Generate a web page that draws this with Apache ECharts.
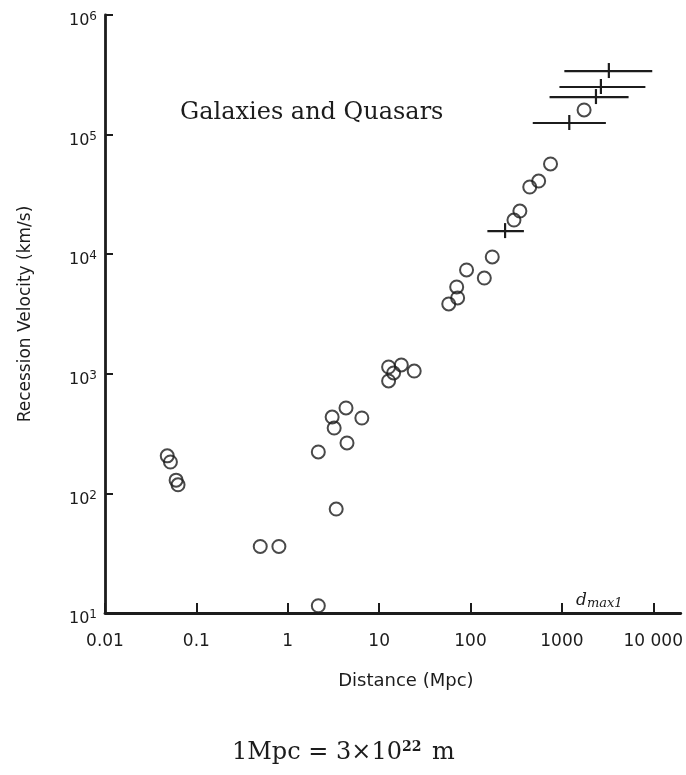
<!DOCTYPE html>
<html>
<head>
<meta charset="utf-8">
<title>Galaxies and Quasars</title>
<script src="https://cdn.jsdelivr.net/npm/echarts@6/dist/echarts.min.js"></script>
<style>
    html, body { margin: 0; padding: 0; background: #fff; }
    #hubble { width: 686px; height: 775px; }
</style>
</head>
<body>
<div id="hubble"></div>
<script>
// distances in Mpc, velocities in km/s
var galaxyDist = [0.048, 0.052, 0.060, 0.063, 0.50, 0.80, 2.16, 2.16, 3.06, 3.22, 4.34, 4.45, 3.39, 6.47,
    12.7, 12.7, 14.4, 17.5, 24.2, 57.8, 72.3, 70.6, 90.5, 141.6, 173, 299, 347, 445, 557, 751, 1750];
var galaxyVel = [206, 183, 129, 118, 36, 36, 11.5, 222, 435, 352, 518, 264, 74, 427,
    1140, 871, 1016, 1185, 1055, 3835, 4305, 5320, 7380, 6320, 9480, 19300, 22960, 36470, 40900, 56800, 160700];

// quasars with horizontal distance bars
var quasarDist = [3266, 2673, 2360, 1205, 239];
var quasarDistLow = [1064, 940, 733, 480, 153];
var quasarDistHigh = [9750, 8200, 5370, 3030, 384];
var quasarVel = [340000, 250000, 206000, 125000, 15600];

var xTickLabels = ['0.01', '0.1', '1', '10', '100', '1000', '10 000'];
var yExponents = ['1', '2', '3', '4', '5', '6'];

var ink = '#1c1c1c';

var myChart = echarts.init(document.getElementById('hubble'));

var galaxyData = galaxyDist.map(function (d, i) {
    return [d, galaxyVel[i]];
});
var quasarData = quasarDist.map(function (d, i) {
    return [d, quasarVel[i], quasarDistLow[i], quasarDistHigh[i]];
});

var option = {
    backgroundColor: '#fff',
    animation: false,
    title: {
        text: 'Galaxies and Quasars',
        left: 175,
        top: 96,
        textStyle: {
            fontFamily: 'DejaVu Serif',
            fontWeight: 'normal',
            fontSize: 24,
            color: ink
        }
    },
    grid: {
        left: 105,
        right: -2,
        top: 15,
        bottom: 162
    },
    xAxis: {
        type: 'log',
        logBase: 10,
        min: 0.01,
        max: 20000,
        name: 'Distance (Mpc)',
        nameLocation: 'middle',
        nameGap: 59,
        nameTextStyle: {
            fontFamily: 'DejaVu Sans',
            fontSize: 18,
            color: ink,
            padding: [0, 0, 0, 26]
        },
        axisLine: { lineStyle: { color: ink, width: 2.8 } },
        axisTick: { inside: true, length: 10, lineStyle: { color: ink, width: 2 } },
        minorTick: { show: false },
        splitLine: { show: false },
        axisLabel: {
            margin: 20,
            fontFamily: 'DejaVu Sans',
            fontSize: 17,
            color: ink,
            showMaxLabel: false,
            formatter: function (v) {
                var k = Math.round(Math.log10(v)) + 2;
                if (Math.abs(Math.log10(v) - (k - 2)) > 0.01) return '';
                return xTickLabels[k] || '';
            }
        }
    },
    yAxis: {
        type: 'log',
        logBase: 10,
        min: 10,
        max: 1000000,
        name: 'Recession Velocity (km/s)',
        nameLocation: 'middle',
        nameGap: 71,
        nameTextStyle: {
            fontFamily: 'DejaVu Sans',
            fontSize: 17,
            color: ink
        },
        axisLine: { lineStyle: { color: ink, width: 2.8 } },
        axisTick: { inside: true, length: 8, lineStyle: { color: ink, width: 2 } },
        splitLine: { show: false },
        axisLabel: {
            margin: 8,
            padding: [12, 0, 0, 0],
            fontFamily: 'DejaVu Sans',
            fontSize: 16,
            color: ink,
            formatter: function (v) {
                var k = Math.round(Math.log10(v)) - 1;
                return '10{s|' + yExponents[k] + '}';
            },
            rich: {
                s: {
                    fontFamily: 'DejaVu Sans',
                    fontSize: 12,
                    color: ink,
                    verticalAlign: 'top',
                    padding: [0, 0, 8, 0]
                }
            }
        }
    },
    graphic: [
        {
            type: 'text',
            left: 232,
            top: 740,
            style: {
                text: '1Mpc = 3×10{s|22} m',
                font: '24px "DejaVu Serif"',
                fill: ink,
                rich: {
                    s: {
                        fontFamily: 'DejaVu Serif',
                        fontSize: 14,
                        fontWeight: 'bold',
                        fill: ink,
                        padding: [0, 3, 12, 0]
                    }
                }
            }
        },
        {
            type: 'text',
            left: 576,
            top: 592,
            style: {
                text: 'd{s|max1}',
                font: 'italic 17px "DejaVu Serif"',
                fill: ink,
                rich: {
                    s: {
                        fontFamily: 'DejaVu Serif',
                        fontStyle: 'italic',
                        fontSize: 13,
                        fill: ink,
                        padding: [7, 0, 0, 0]
                    }
                }
            }
        }
    ],
    series: [
        {
            name: 'Galaxies',
            type: 'scatter',
            data: galaxyData,
            symbol: 'circle',
            symbolSize: 13,
            itemStyle: {
                color: 'transparent',
                borderColor: ink,
                borderWidth: 2
            }
        },
        {
            name: 'Quasars',
            type: 'custom',
            data: quasarData,
            renderItem: function (params, api) {
                var c = api.coord([api.value(0), api.value(1)]);
                var lo = api.coord([api.value(2), api.value(1)]);
                var hi = api.coord([api.value(3), api.value(1)]);
                return {
                    type: 'group',
                    children: [
                        {
                            type: 'line',
                            shape: { x1: lo[0], y1: lo[1], x2: hi[0], y2: hi[1] },
                            style: { stroke: ink, lineWidth: 2.2 }
                        },
                        {
                            type: 'line',
                            shape: { x1: c[0], y1: c[1] - 8, x2: c[0], y2: c[1] + 7 },
                            style: { stroke: ink, lineWidth: 2.2 }
                        }
                    ]
                };
            }
        }
    ]
};

myChart.setOption(option);
</script>
</body>
</html>
